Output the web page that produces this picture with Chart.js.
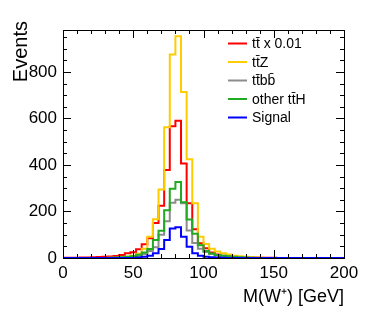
<!DOCTYPE html>
<html><head><meta charset="utf-8">
<script src="https://cdn.jsdelivr.net/npm/chart.js@4/dist/chart.umd.min.js"></script>
<style>html,body{margin:0;padding:0;background:#fff}#wrap{width:374px;height:316px;position:relative}</style>
</head><body><div id="wrap"><canvas id="c"></canvas></div>
<script>
// Bin lower edges (GeV), bin width 4 GeV, range 0-200
const binWidth = 4;
const binStarts = [0,4,8,12,16,20,24,28,32,36,40,44,48,52,56,60,64,68,72,76,80,84,88,92,96,100,104,108,112,116,120,124,128,132,136,140,144,148,152,156,160,164,168,172,176,180,184,188,192,196];

const ttbarScaled = [1,1,1,2,2,3,4,5,6,9, 13,20,25,38,59,85,150,225,378,566, 590,406,235,124,63,42,24,15,10,7, 5,4,3,2,2,1,1,1,0,0, 0,0,0,0,0,0,0,0,0,0];
const ttZ         = [0,0,0,0,0,0,0,0,1,1, 2,5,10,18,40,91,167,294,562,875, 953,714,424,235,91,60,40,28,20,15, 10,8,5,3,2,1,0,0,0,0, 0,0,0,0,0,0,0,0,0,0];
const ttbb        = [0,0,0,0,0,0,0,0,0,0, 1,2,4,8,17,30,46,100,158,238, 250,235,118,65,40,26,17,12,8,5, 3,2,1,0,0,0,0,0,0,0, 0,0,0,0,0,0,0,0,0,0];
const otherttH    = [0,0,0,0,0,0,0,0,1,2, 3,5,8,14,24,39,77,117,205,298, 327,240,165,104,55,30,19,13,10,7, 5,3,2,1,0,0,0,0,0,0, 0,0,0,0,0,0,0,0,0,0];
const signal      = [0,0,0,0,0,0,0,0,0,0, 0,0,0,2,5,10,20,39,77,127, 132,91,48,20,10,5,3,2,1,0, 0,0,0,0,0,0,0,0,0,0, 0,0,0,0,0,0,0,0,0,0];

const seriesNames = ['tt\u0304 x 0.01', 'tt\u0304Z', 'tt\u0304bb\u0304', 'other tt\u0304H', 'Signal'];
const xTicks = [0, 50, 100, 150, 200];
const yTicks = [0, 200, 400, 600, 800];
const xTitle = 'M(W\u207A) [GeV]';
const yTitle = 'Events';

function histPoints(vals) {
  const pts = binStarts.map((x, i) => ({x: x, y: vals[i]}));
  pts.push({x: binStarts[binStarts.length - 1] + binWidth, y: vals[vals.length - 1]});
  return pts;
}

const colors = ['#ff0000', '#ffcc00', '#8c8c8c', '#22aa22', '#0000ff'];
const series = [ttbarScaled, ttZ, ttbb, otherttH, signal];
const drawOrder = [4, 3, 2, 1, 0];

const FONT = '"Liberation Sans", Arial, Helvetica, sans-serif';

const framePlugin = {
  id: 'frame',
  afterDatasetsDraw(chart) {
    const {ctx, chartArea: a, scales} = chart;
    ctx.save();
    ctx.strokeStyle = '#000';
    ctx.lineWidth = 1;
    ctx.beginPath();
    const xs = scales.x, ys = scales.y;
    for (let v = 0; v <= 200; v += 10) {
      const px = Math.round(xs.getPixelForValue(v)) + 0.5;
      const len = (v % 50 === 0) ? 8 : 4;
      ctx.moveTo(px, a.bottom); ctx.lineTo(px, a.bottom - len);
      ctx.moveTo(px, a.top); ctx.lineTo(px, a.top + len);
    }
    for (let v = 0; v <= ys.max; v += 50) {
      const py = Math.round(ys.getPixelForValue(v)) + 0.5;
      const len = (v % 200 === 0) ? 8 : 4;
      ctx.moveTo(a.left, py); ctx.lineTo(a.left + len, py);
      ctx.moveTo(a.right, py); ctx.lineTo(a.right - len, py);
    }
    ctx.stroke();
    ctx.strokeRect(Math.round(a.left) + 0.5, Math.round(a.top) + 0.5, Math.round(a.right - a.left), Math.round(a.bottom - a.top));
    ctx.restore();
  },
  afterDraw(chart) {
    const {ctx, chartArea: a} = chart;
    ctx.save();
    ctx.fillStyle = '#000';
    ctx.font = '18px ' + FONT;
    ctx.textAlign = 'right';
    ctx.textBaseline = 'alphabetic';
    ctx.fillText(xTitle, a.right, 302);
    ctx.translate(27, 21);
    ctx.rotate(-Math.PI / 2);
    ctx.font = '20px ' + FONT;
    ctx.fillText(yTitle, 0, 0);
    ctx.restore();
    ctx.save();
    ctx.font = '14px ' + FONT;
    ctx.textAlign = 'left';
    ctx.textBaseline = 'middle';
    const x0 = 228, x1 = 247, tx = 252, y0 = 43.5, dy = 18.5;
    chart.data.datasets.forEach((ds, i) => {
      const y = y0 + i * dy;
      ctx.strokeStyle = ds.borderColor;
      ctx.lineWidth = 2;
      ctx.beginPath(); ctx.moveTo(x0, y); ctx.lineTo(x1, y); ctx.stroke();
      ctx.fillStyle = '#000';
      ctx.fillText(ds.label, tx, y + 1);
    });
    ctx.restore();
  }
};

new Chart(document.getElementById('c'), {
  type: 'line',
  data: {
    datasets: series.map((vals, i) => ({
      label: seriesNames[i],
      data: histPoints(vals),
      borderColor: colors[i],
      backgroundColor: colors[i],
      borderWidth: 2,
      stepped: 'before',
      pointRadius: 0,
      fill: false,
      order: drawOrder[i]
    }))
  },
  options: {
    responsive: true,
    maintainAspectRatio: false,
    animation: false,
    layout: {padding: {top: 30, right: 30, left: 0, bottom: 0}},
    plugins: {legend: {display: false}, tooltip: {enabled: false}},
    scales: {
      x: {
        type: 'linear', min: 0, max: 200,
        afterFit(s) { s.height = 58; },
        afterBuildTicks(s) { s.ticks = xTicks.map(v => ({value: v})); },
        grid: {display: false, drawTicks: false},
        border: {display: false},
        ticks: {font: {family: FONT, size: 17}, color: '#000', padding: 5, maxRotation: 0, autoSkip: false}
      },
      y: {
        type: 'linear', min: 0, max: 980,
        afterFit(s) { s.width = 63; },
        afterBuildTicks(s) { s.ticks = yTicks.map(v => ({value: v})); },
        grid: {display: false, drawTicks: false},
        border: {display: false},
        ticks: {font: {family: FONT, size: 17}, color: '#000', padding: 6, autoSkip: false}
      }
    }
  },
  plugins: [framePlugin]
});
</script>
</body></html>
